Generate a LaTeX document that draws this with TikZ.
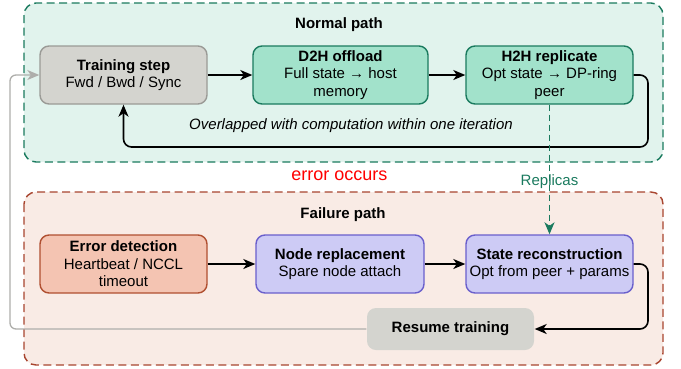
\documentclass[tikz,border=0pt]{standalone}
\usepackage{fontspec}
\setmainfont{Liberation Sans}
\usetikzlibrary{arrows.meta}
\definecolor{normfill}{HTML}{E1F3ED}
\definecolor{normline}{HTML}{1A7A5E}
\definecolor{failfill}{HTML}{F9EBE5}
\definecolor{failline}{HTML}{A8452F}
\definecolor{greenbox}{HTML}{A2E2CB}
\definecolor{graybox}{HTML}{D4D4CF}
\definecolor{grayline}{HTML}{9A9A96}
\definecolor{errbox}{HTML}{F4C4B2}
\definecolor{errline}{HTML}{B04F30}
\definecolor{purpbox}{HTML}{CDCBF5}
\definecolor{purpline}{HTML}{6A5FCC}
\begin{document}
\begin{tikzpicture}[x=1pt, y=-1pt, font=\fontsize{15}{17.5}\selectfont]
	\tikzset{>={Stealth[length=12pt,width=10pt,inset=3.5pt]}}
	\tikzset{box/.style={rounded corners=9pt, line width=1.4pt, align=center, minimum height=58pt, inner sep=2pt}}
	\tikzset{panel/.style={rounded corners=12pt, dashed, dash pattern=on 8pt off 4.5pt, line width=1.4pt}}
	\tikzset{flow/.style={->, line width=1.6pt}}
	\useasboundingbox (0,0) rectangle (681,368);
	% panels
	\draw [panel, draw=normline, fill=normfill] (24,3) rectangle (663,162);
	\draw [panel, draw=failline, fill=failfill] (24,192) rectangle (663,365);
	\node [font=\fontsize{15}{17.5}\selectfont\bfseries] (ntitle) at (339,25) {Normal path};
	\node [font=\fontsize{15}{17.5}\selectfont\bfseries] (ftitle) at (343,215) {Failure path};
	\node [text=red, font=\fontsize{18}{20}\selectfont] (err) at (339.5,176) {error occurs};
	% normal path
	\node [box, draw=grayline, fill=graybox, minimum width=167pt] (train) at (123.5,75) {\textbf{Training step}\\Fwd / Bwd / Sync};
	\node [box, draw=normline, fill=greenbox, minimum width=175pt] (d2h) at (340.5,75) {\textbf{D2H offload}\\Full state → host\\memory};
	\node [box, draw=normline, fill=greenbox, minimum width=167pt] (h2h) at (549.5,75) {\textbf{H2H replicate}\\Opt state → DP-ring\\peer};
	\draw [flow] (train) -- (d2h);
	\draw [flow] (d2h) -- (h2h);
	\draw [flow, rounded corners=8pt] (h2h.east) -- (648,75) -- (648,147) -- (123.5,147) -- (train.south);
	\node [font=\fontsize{15}{17.5}\selectfont\itshape] (ovl) at (351,126) {Overlapped with computation within one iteration};
	% failure path
	\node [box, draw=errline, fill=errbox, minimum width=167pt] (detect) at (123.5,264) {\textbf{Error detection}\\Heartbeat / NCCL\\timeout};
	\node [box, draw=purpline, fill=purpbox, minimum width=168pt] (replace) at (340,264) {\textbf{Node replacement}\\Spare node attach};
	\node [box, draw=purpline, fill=purpbox, minimum width=167pt] (recon) at (549.5,264) {\textbf{State reconstruction}\\Opt from peer + params};
	\node [box, draw=none, fill=graybox, minimum width=167pt, minimum height=42pt] (resume) at (450.5,329) {\textbf{Resume training}};
	\draw [flow] (detect) -- (replace);
	\draw [flow] (replace) -- (recon);
	\draw [flow, rounded corners=8pt] (recon.east) -- (648,264) -- (648,329) -- (resume.east);
	% replicas and resume
	\draw [->, normline, line width=1.5pt, dashed, dash pattern=on 6pt off 4pt] (h2h.south) -- node [pos=0.59, text=normline] (rep) {Replicas} (recon.north);
	\draw [->, grayline!80, line width=1.3pt, rounded corners=6pt] (resume.west) -- (10,329) -- (10,75) -- (train.west);
\end{tikzpicture}
\end{document}
